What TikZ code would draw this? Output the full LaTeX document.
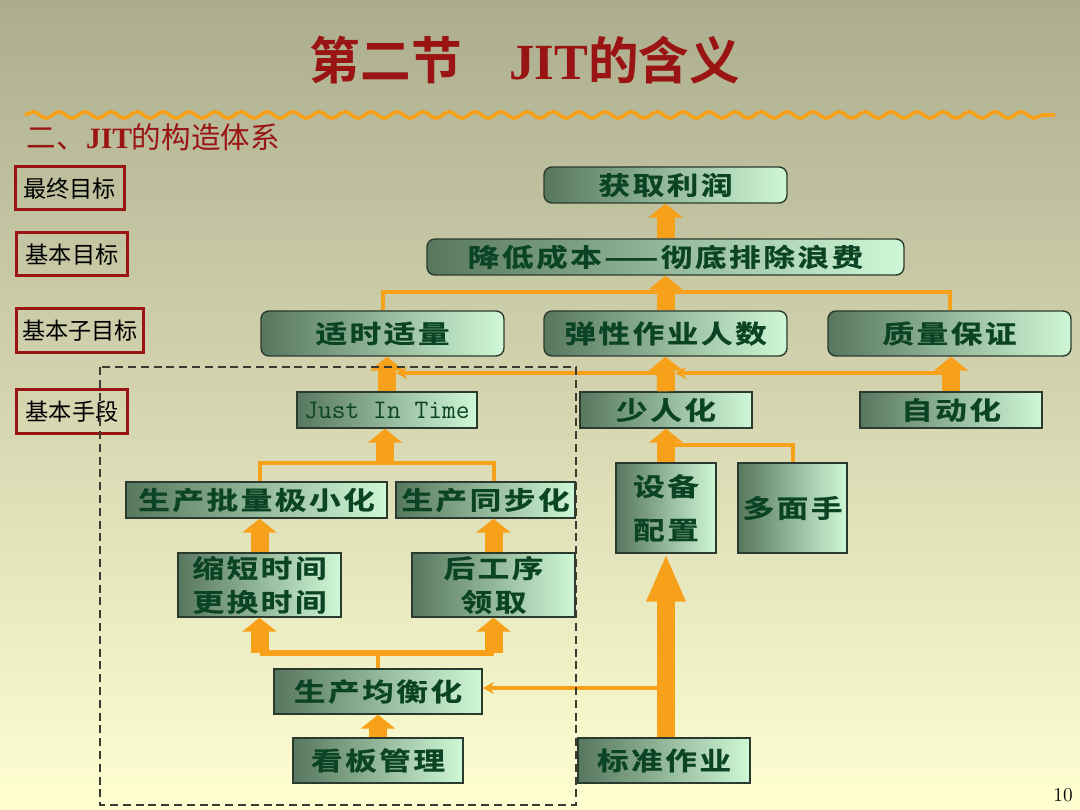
\documentclass[tikz,border=0pt]{standalone}
\usepackage{fontspec}
\usetikzlibrary{arrows.meta,decorations.pathmorphing}
\newfontfamily\cjkfont[BoldFont={Noto Sans CJK SC Bold}]{Noto Sans CJK SC}
\newfontfamily\cjkwide[FakeStretch=1.25,LetterSpace=10,BoldFont={Noto Sans CJK SC Bold},BoldFeatures={FakeBold=0.8}]{Noto Sans CJK SC}
\newfontfamily\serifjit{Liberation Serif}
\definecolor{JTbgTop}{HTML}{ABAD8E}
\definecolor{JTbgMid}{HTML}{E3E3B5}
\definecolor{JTbgBot}{HTML}{FFFFD2}
\definecolor{JTred}{HTML}{9A1414}
\definecolor{JTorange}{HTML}{F7A11A}
\definecolor{JTboxDark}{HTML}{57775E}
\definecolor{JTboxMid}{HTML}{A8D6B0}
\definecolor{JTboxLight}{HTML}{CFF8D6}
\definecolor{JTtext}{HTML}{0B4424}
\definecolor{JTedge}{HTML}{2B3A2E}
\definecolor{JTdash}{HTML}{3A3A30}

\begin{document}
\begin{tikzpicture}[x=0.25mm,y=-0.25mm,
  boxsize/.style 2 args={minimum width=#1*0.25mm,minimum height=#2*0.25mm},
  goal/.style={draw=JTedge,line width=.35mm,left color=JTboxDark,middle color=JTboxMid,right color=JTboxLight,
    text=JTtext,inner sep=0pt,align=center,font=\cjkwide\bfseries\fontsize{18}{24}\selectfont},
  goalr/.style={goal,rounded corners=2mm},
  levelbox/.style={draw=JTred,line width=.75mm,inner sep=0pt,text=black,font=\cjkfont\fontsize{16.5}{16.5}\selectfont},
  fat/.style={draw=JTorange,line width=4.5mm,-{Triangle[width=8.5mm,length=3.5mm]}},
  bigfat/.style={draw=JTorange,line width=4.5mm,-{Triangle[width=9mm,length=12mm]}},
  feed/.style={draw=JTorange,line width=1mm},
  feedarr/.style={feed,-{Stealth[length=2.8mm,width=3mm]}}]
\path[use as bounding box] (0,0) rectangle (1080,810);
\shade[top color=JTbgTop,middle color=JTbgMid,bottom color=JTbgBot] (0,0) rectangle (1080,810);

% title and heading
\node[text=JTred,font=\cjkfont\bfseries\fontsize{36}{36}\selectfont] (title) at (525,60) {第二节\hspace{12mm}{\serifjit JIT}的含义};
\draw[JTorange,line width=.9mm,decorate,decoration={snake,segment length=6.5mm,amplitude=.8mm}] (25,115) -- (1055,115);
\node[anchor=west,text=JTred,font=\cjkfont\fontsize{21}{21}\selectfont] (subtitle) at (22,137) {二、{\serifjit\bfseries JIT}的构造体系};

% level labels
\node[levelbox,boxsize={109}{43}] (lfinal) at (69.5,188.5) {最终目标};
\node[levelbox,boxsize={111}{43}] (lbasic) at (72,254.5) {基本目标};
\node[levelbox,boxsize={127}{44}] (lsub) at (80,331) {基本子目标};
\node[levelbox,boxsize={111}{43}] (lmeans) at (72,411.5) {基本手段};

% goals
\node[goalr,boxsize={243}{36}] (profit) at (665.5,185) {获取利润};
\node[goalr,boxsize={477}{36}] (cost) at (665.5,257) {降低成本——彻底排除浪费};
\node[goalr,boxsize={243}{45}] (timely) at (382.5,333.5) {适时适量};
\node[goalr,boxsize={243}{45}] (flex) at (665.5,333.5) {弹性作业人数};
\node[goalr,boxsize={243}{45}] (quality) at (949.5,333.5) {质量保证};

% means
\node[goal,boxsize={180}{36},font=\ttfamily\fontsize{19}{19}\selectfont] (jit) at (387,410) {Just In Time};
\node[goal,boxsize={172}{36}] (fewer) at (666,410) {少人化};
\node[goal,boxsize={182}{36}] (jidoka) at (951,410) {自动化};
\node[goal,boxsize={261}{36}] (lot) at (256.5,500) {生产批量极小化};
\node[goal,boxsize={179}{36}] (sync) at (485.5,500) {生产同步化};
\node[goal,boxsize={163}{64}] (setup) at (259.5,585) {缩短时间\\更换时间};
\node[goal,boxsize={163}{64}] (pull) at (493.5,585) {后工序\\领取};
\node[goal,boxsize={100}{90},font=\cjkwide\bfseries\fontsize{18}{31}\selectfont] (layout) at (666,508) {设备\\配置};
\node[goal,boxsize={109}{90}] (multi) at (792.5,508) {多面手};
\node[goal,boxsize={208}{45}] (level) at (378,691.5) {生产均衡化};
\node[goal,boxsize={170}{45}] (kanban) at (378,760.5) {看板管理};
\node[goal,boxsize={172}{45}] (std) at (664,760.5) {标准作业};

% thin connectors
\coordinate (costfork) at (666,292);
\coordinate (jidokatap) at (951,373);
\coordinate (jitfork) at (385,463);
\coordinate (fewerfork) at (666,445);
\coordinate (levelfork) at (378,653);
\coordinate (stdtap) at (666,688);
\draw[feed] (timely.north) |- (costfork) -| (quality.north);
\draw[feedarr,shorten >=2.25mm] (jidokatap) -- (jidokatap -| fewer.north);
\draw[feedarr,shorten >=2.25mm] (jidokatap -| fewer.north) -- (jidokatap -| jit.north);
\draw[feed] (setup.north |- lot.north) |- (jitfork) -| (pull.north |- sync.north);
\draw[feed] (multi.north) |- (fewerfork);
\draw[feed] (level.north) -- (levelfork);
\draw[feed,line width=1.6mm] (setup.south |- levelfork) -- (pull.south |- levelfork);
\draw[feedarr] (stdtap) -- (stdtap -| level.east);

% fat arrows
\draw[fat] (cost.north) -- (profit.south);
\draw[fat] (flex.north) -- (cost.south);
\draw[fat] (jit.north) -- (jit.north |- timely.south);
\draw[fat] (fewer.north) -- (flex.south);
\draw[fat] (jidoka.north) -- (jidoka.north |- quality.south);
\draw[fat] (jitfork) -- (jitfork |- jit.south);
\draw[fat] (layout.north) -- (fewer.south);
\draw[fat] (setup.north) -- (setup.north |- lot.south);
\draw[fat] (pull.north) -- (pull.north |- sync.south);
\draw[fat] (setup.south |- levelfork) -- (setup.south);
\draw[fat] (pull.south |- levelfork) -- (pull.south);
\draw[fat] (kanban.north) -- (level.south);
\draw[bigfat] (layout.south |- std.north) -- (layout.south);

% JIT frame
\draw[JTdash,line width=.3mm,dash pattern=on 2mm off 1.2mm] (100,367) rectangle (576,805);

\node[font=\fontsize{14}{14}\selectfont] (pagenum) at (1063,795) {10};
\end{tikzpicture}
\end{document}
